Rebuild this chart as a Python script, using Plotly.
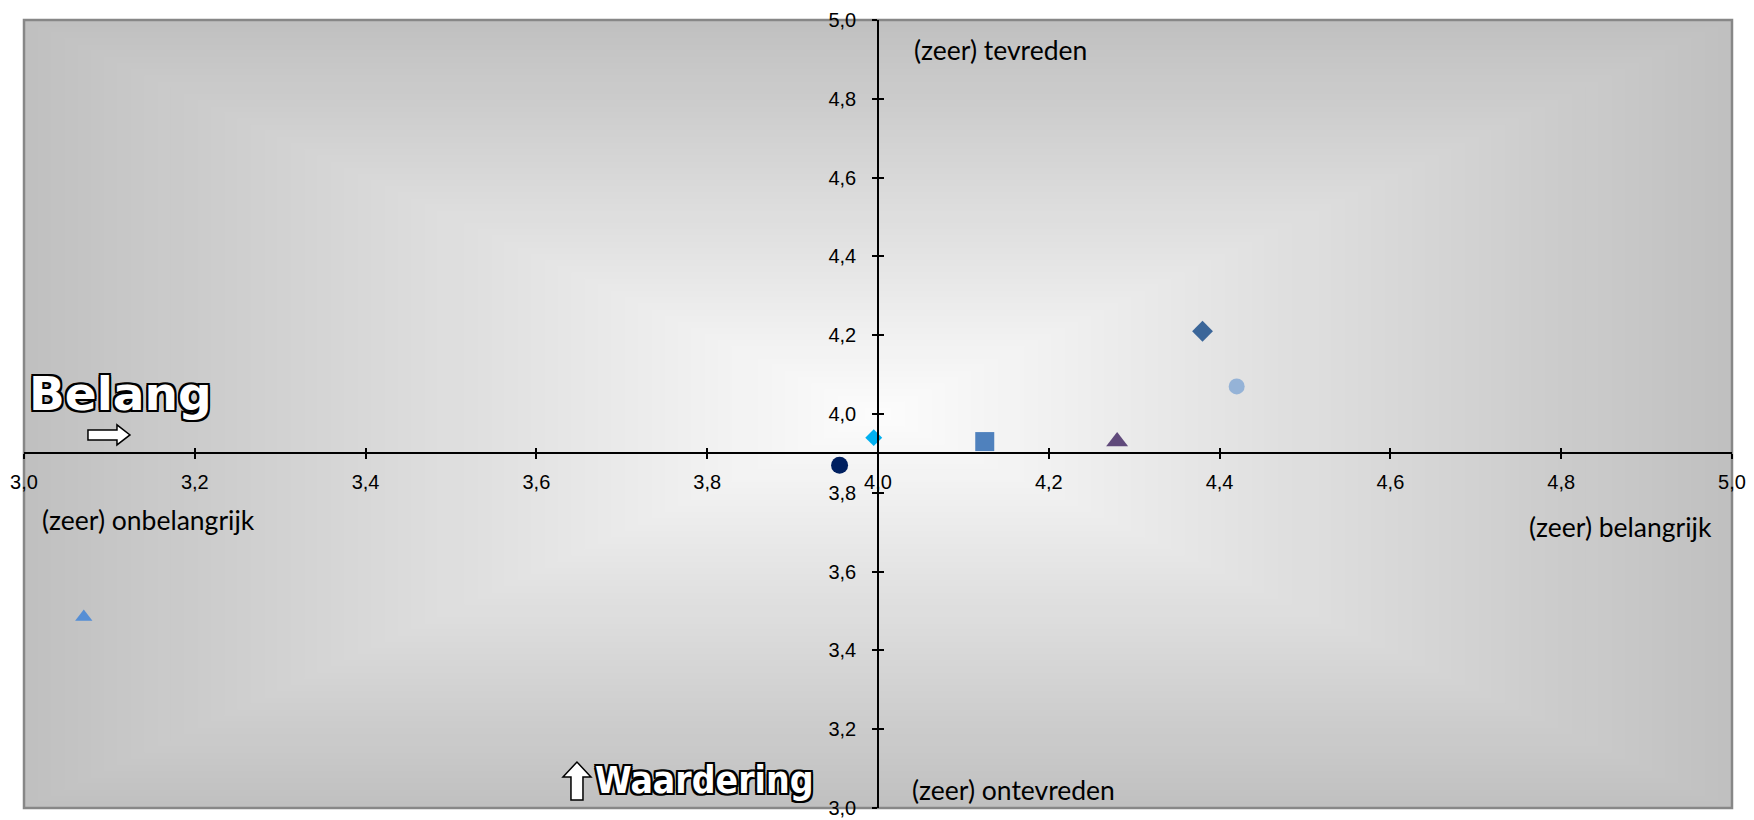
import plotly.graph_objects as go

# ---- data ----
aspecten = ["Aspect 1", "Aspect 2", "Aspect 3", "Aspect 4", "Aspect 5", "Aspect 6", "Aspect 7"]
belang = [3.995, 3.955, 4.125, 4.28, 4.38, 4.42, 3.07]
waardering = [3.94, 3.87, 3.93, 3.93, 4.21, 4.07, 3.485]
symbols = ["diamond", "circle", "square", "triangle-up", "diamond", "circle", "triangle-up"]
sizes = [13, 17, 19, 19, 16, 16, 15]
colors = ["#00B0F0", "#002060", "#4F81BD", "#604A7B", "#3B6699", "#95B3D7", "#558ED5"]
tickvals = [3.0, 3.2, 3.4, 3.6, 3.8, 4.0, 4.2, 4.4, 4.6, 4.8, 5.0]

x_range = [3.0, 5.0]
y_range = [3.0, 5.0]
x_cross = 3.9   # x-axis crosses y at 3.9
y_cross = 4.0   # y-axis crosses x at 4.0

fig = go.Figure()
for name, xv, yv, sym, sz, col in zip(aspecten, belang, waardering, symbols, sizes, colors):
    fig.add_trace(go.Scatter(x=[xv], y=[yv], mode="markers", name=name,
                             marker=dict(symbol=sym, size=sz, color=col, line=dict(width=0))))
# helper trace so the overlay axes (inner half of the crossing ticks) get drawn
fig.add_trace(go.Scatter(x=[], y=[], xaxis="x2", yaxis="y2", showlegend=False, hoverinfo="skip"))

# ---- background: rectangular gradient from the centre ----
shapes = []
N = 64
for i in range(N):
    t = 1 - i / N
    g = int(round(253 - 61 * t))
    shapes.append(dict(type="rect", xref="paper", yref="paper",
                       x0=0.5 - 0.5 * t, x1=0.5 + 0.5 * t, y0=0.5 - 0.5 * t, y1=0.5 + 0.5 * t,
                       fillcolor=f"rgb({g},{g},{g})", line=dict(width=0), layer="below"))
shapes.append(dict(type="rect", xref="paper", yref="paper", x0=0, x1=1, y0=0, y1=1,
                   line=dict(color="#878787", width=2.5), fillcolor="rgba(0,0,0,0)", layer="below"))

# decorative block arrows (pixel-sized, anchored in data space)
arrow_style = dict(type="path", xref="x", yref="y", xsizemode="pixel", ysizemode="pixel",
                   fillcolor="white", line=dict(color="black", width=1.5), layer="above")
shapes.append(dict(arrow_style, xanchor=3.0995, yanchor=3.947,
                   path="M -21,-5 L 8,-5 L 8,-10 L 21,0 L 8,10 L 8,5 L -21,5 Z"))
shapes.append(dict(arrow_style, xanchor=3.6475, yanchor=3.0685,
                   path="M -6,-19 L -6,4 L -14,4 L 0,19 L 14,4 L 6,4 L 6,-19 Z"))

xpos = (x_cross - y_range[0]) / (y_range[1] - y_range[0])
ypos = (y_cross - x_range[0]) / (x_range[1] - x_range[0])
tickfont = dict(family="Liberation Sans, Arial, sans-serif", size=20, color="black")
common = dict(tickvals=tickvals, tickformat=".1f", showgrid=False, zeroline=False,
              tickcolor="black", tickwidth=1.5, ticklen=5, automargin=False)

outline = ("-2px -2px 0 #000, 2px -2px 0 #000, -2px 2px 0 #000, 2px 2px 0 #000, "
           "0 2px 0 #000, 0 -2px 0 #000, 2px 0 0 #000, -2px 0 0 #000")
lab = dict(family="Lato, Carlito, Calibri, sans-serif", size=26.5, color="black")
narrow = ("DejaVu Sans Condensed, Liberation Sans Narrow, Arial Narrow, Noto Sans Condensed, "
          "Roboto Condensed, Liberation Sans, sans-serif")

annotations = [
    dict(text="(zeer) tevreden", x=4.04, y=4.924, xanchor="left", yanchor="middle", font=lab),
    dict(text="(zeer) ontevreden", x=4.038, y=3.045, xanchor="left", yanchor="middle", font=lab),
    dict(text="(zeer) onbelangrijk", x=3.019, y=3.731, xanchor="left", yanchor="middle", font=lab),
    dict(text="(zeer) belangrijk", x=4.979, y=3.713, xanchor="right", yanchor="middle", font=lab),
    dict(text="Belang", x=3.003, y=4.052, xanchor="left", yanchor="middle",
         font=dict(family="DejaVu Sans", size=47, color="white", weight="bold", shadow=outline)),
    dict(text="Waardering", x=3.666, y=3.07, xanchor="left", yanchor="middle",
         font=dict(family=narrow, size=37, color="white", weight="bold", shadow=outline)),
]
for a in annotations:
    a.update(xref="x", yref="y", showarrow=False)

# the page body has an 8px margin: size the figure so the plot area lands where it should
fig.update_layout(
    width=1746, height=812,
    margin=dict(l=16, r=22, t=12, b=12, autoexpand=False),
    paper_bgcolor="white", plot_bgcolor="#C0C0C0",
    separators=", ",
    showlegend=False,
    shapes=shapes,
    annotations=annotations,
    xaxis=dict(range=x_range, anchor="free", position=xpos, showline=True, linecolor="black",
               linewidth=1.5, ticks="outside", tickfont=tickfont, ticklabelstandoff=6, **common),
    yaxis=dict(range=y_range, anchor="free", position=ypos, showline=True, linecolor="black",
               linewidth=1.5, ticks="outside", tickfont=tickfont, ticklabelstandoff=12, **common),
    xaxis2=dict(range=x_range, overlaying="x", anchor="free", position=xpos, showline=False,
                ticks="inside", showticklabels=False, **common),
    yaxis2=dict(range=y_range, overlaying="y", anchor="free", position=ypos, showline=False,
                ticks="inside", showticklabels=False, **common),
)

fig.write_html("out.html")
